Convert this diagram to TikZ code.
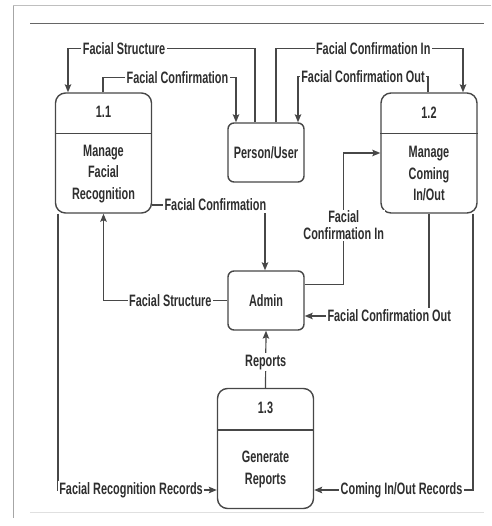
\documentclass[tikz,border=0pt]{standalone}
\usepackage{fontspec}
\setmainfont{Liberation Sans}[FakeStretch=0.66]
\usetikzlibrary{arrows.meta,positioning,calc}

\begin{document}
\begin{tikzpicture}[
    x=1pt, y=-1pt,
    % Node styles
    proc/.style={draw=black!72, line width=1.4pt, rounded corners=10pt, minimum width=96pt, minimum height=120pt, inner sep=0pt},
    entity/.style={draw=black!72, line width=1.4pt, rounded corners=6pt, minimum width=76pt, minimum height=59pt, inner sep=0pt, font=\bfseries\fontsize{16.5}{18}\selectfont, text=black!82},
    ptext/.style={align=center, font=\bfseries\fontsize{16.5}{21.5}\selectfont, text=black!82},
    lbl/.style={fill=white, inner sep=1.5pt, align=center, font=\bfseries\fontsize{16.5}{16.5}\selectfont, text=black!82},
    flow/.style={-{Stealth[length=8pt,width=6.5pt,inset=1.5pt]}, line width=1.2pt, draw=black!72},
    frame/.style={draw=black!25, line width=1pt},
]

\useasboundingbox (0,0) rectangle (491,526);

% ============================================================
% Page frame
% ============================================================
\draw[frame] (13,6) -- (491,6);
\draw[frame, draw=black!35] (13,6) -- (13,518);
\draw[frame, draw=black!60] (30,24) -- (484,24);
\draw[frame, draw=black!12] (30,512) -- (484,512);

% ============================================================
% Processes
% ============================================================
\node[proc] (p11) at (103.5,153) {};
\draw[draw=black!72, line width=1.4pt] ([yshift=-41pt]p11.north west) -- ([yshift=-41pt]p11.north east);
\node[ptext] (p11id) at ([yshift=-20pt]p11.north) {1.1};
\node[ptext] (p11txt) at ([yshift=40pt]p11.south) {Manage\\Facial\\Recognition};

\node[proc] (p12) at (429,153) {};
\draw[draw=black!72, line width=1.4pt] ([yshift=-41pt]p12.north west) -- ([yshift=-41pt]p12.north east);
\node[ptext] (p12id) at ([yshift=-20pt]p12.north) {1.2};
\node[ptext] (p12txt) at ([yshift=40pt]p12.south) {Manage\\Coming\\In/Out};

\node[proc] (p13) at (265.5,448.5) {};
\draw[draw=black!72, line width=1.4pt] ([yshift=-42pt]p13.north west) -- ([yshift=-42pt]p13.north east);
\node[ptext] (p13id) at ([yshift=-20pt]p13.north) {1.3};
\node[ptext] (p13txt) at ([yshift=40pt]p13.south) {Generate\\Reports};

% ============================================================
% External entities
% ============================================================
\node[entity] (person) at (266,152.5) {Person/User};
\node[entity] (admin) at (266,300.5) {Admin};

% ============================================================
% Person/User flows
% ============================================================
\draw[flow] ([xshift=-11pt]person.north) -- ++(0,-74)
    -| node[lbl, pos=0.35] {Facial Structure} ([xshift=-35.5pt]p11.north);
\draw[flow] ([xshift=-0.5pt]p11.north) -- ++(0,-15)
    -| node[lbl, pos=0.28] {Facial Confirmation} ([xshift=-30pt]person.north);
\draw[flow] ([xshift=10pt]person.north) -- ++(0,-74)
    -| node[lbl, pos=0.26] {Facial Confirmation In} ([xshift=34pt]p12.north);
\draw[flow] ([xshift=-1pt]p12.north) -- ++(0,-16)
    -| node[lbl, pos=0.25] {Facial Confirmation Out} ([xshift=32pt]person.north);

% ============================================================
% Admin flows
% ============================================================
\draw[flow] ([yshift=-52pt]p11.east)
    -| node[lbl, pos=0.28] {Facial Confirmation} ([xshift=-1pt]admin.north);
\draw[flow] (admin.west)
    -| node[lbl, pos=0.23] {Facial Structure} (p11.south);
\draw[flow] ([yshift=16pt]admin.east) -- ++(39,0)
    |- node[lbl, pos=0.225] {Facial\\Confirmation In} (p12.west);
\draw[flow] (p12.south)
    |- node[lbl, pos=0.66] {Facial Confirmation Out} ([yshift=-15.5pt]admin.east);
\draw[flow] (p13.north) -- node[lbl, pos=0.45] {Reports} (admin.south);

% ============================================================
% Records
% ============================================================
\draw[flow] ([xshift=-45.5pt]p11.south)
    |- node[lbl, pos=0.73] {Facial Recognition Records} ([yshift=-41.5pt]p13.west);
\draw[flow] ([xshift=44pt]p12.south)
    |- node[lbl, pos=0.725] {Coming In/Out Records} ([yshift=-41.5pt]p13.east);

\end{tikzpicture}
\end{document}
